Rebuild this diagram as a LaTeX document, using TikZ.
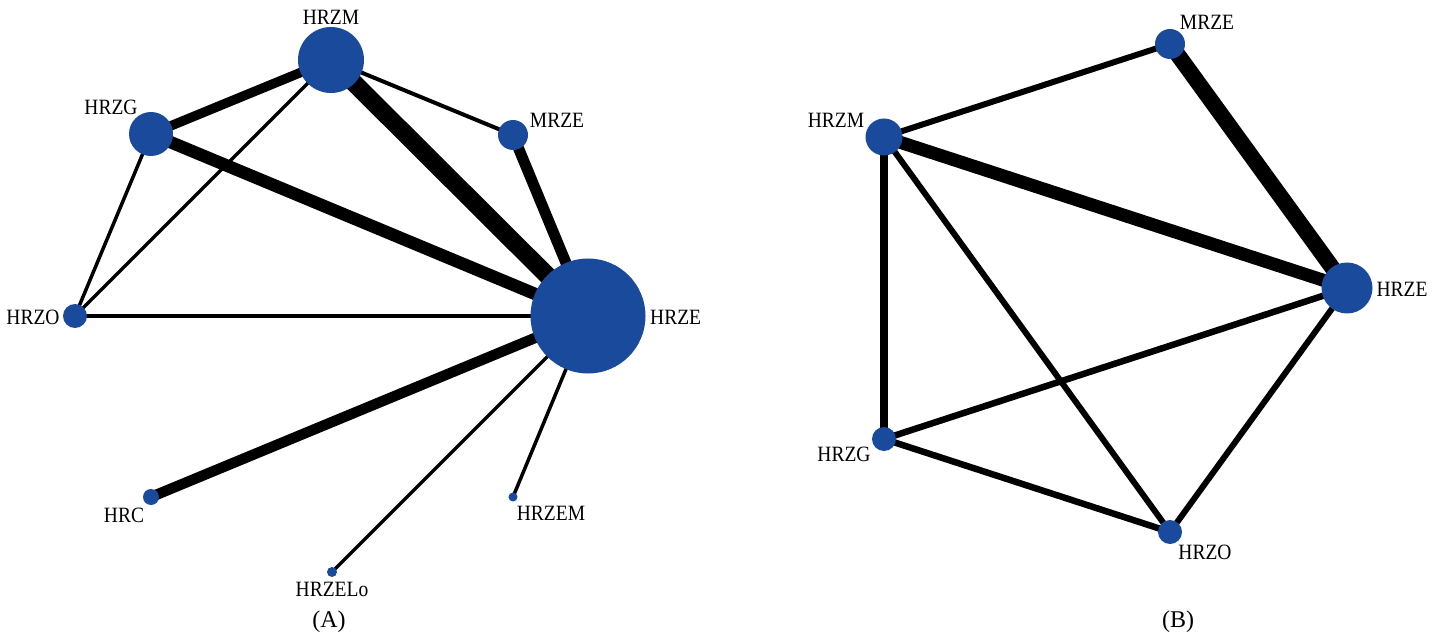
\documentclass[tikz,border=0pt]{standalone}
\usepackage{fontspec}
\usepackage{graphicx}
\setmainfont{Liberation Serif}
\pgfdeclarelayer{bg}
\pgfsetlayers{bg,main}
\definecolor{nodeblue}{RGB}{26,74,156}
\newcommand{\tallt}[1]{\scalebox{1}[1.12]{#1}}
\tikzset{
  dot/.style={circle,fill=nodeblue,draw=none,inner sep=0pt,minimum size=#1},
  lbl/.style={inner sep=0pt,font=\fontsize{19.5}{22}\selectfont,text=black},
  captext/.style={inner sep=0pt,font=\fontsize{24}{28}\selectfont,text=black},
  edge/.style={line width=#1,draw=black,line cap=butt},
}
\begin{document}
\begin{tikzpicture}[x=1pt,y=-1pt]
\useasboundingbox (0,0) rectangle (1443,636);
% ---------- Panel A ----------
\node[dot=66pt]  (aHRZM)  at (331,60)  {};
\node[dot=44pt]  (aHRZG)  at (151,134) {};
\node[dot=30pt]  (aMRZE)  at (513,135) {};
\node[dot=24pt]  (aHRZO)  at (75,316)  {};
\node[dot=115pt] (aHRZE)  at (588,316) {};
\node[dot=16pt]  (aHRC)   at (151,497) {};
\node[dot=9pt]   (aHRZEM) at (513,497) {};
\node[dot=10pt]  (aHRZELo) at (332,572) {};
\begin{pgfonlayer}{bg}
\draw[edge=9.5pt](aHRZM.center) -- (aHRZG.center);
\draw[edge=18pt] (aHRZM.center) -- (aHRZE.center);
\draw[edge=4pt]  (aHRZM.center) -- (aMRZE.center);
\draw[edge=3.5pt](aHRZM.center) -- (aHRZO.center);
\draw[edge=12.5pt](aHRZG.center) -- (aHRZE.center);
\draw[edge=3.5pt](aHRZG.center) -- (aHRZO.center);
\draw[edge=11pt] (aMRZE.center) -- (aHRZE.center);
\draw[edge=4pt]  (aHRZO.center) -- (aHRZE.center);
\draw[edge=10.5pt](aHRC.center) -- (aHRZE.center);
\draw[edge=3.5pt](aHRZEM.center) -- (aHRZE.center);
\draw[edge=3.5pt](aHRZELo.center) -- (aHRZE.center);
\end{pgfonlayer}
\node[lbl] (laHRZM)  at (331,17)  {\tallt{HRZM}};
\node[lbl] (laHRZG)  at (111,107) {\tallt{HRZG}};
\node[lbl] (laMRZE)  at (557,120) {\tallt{MRZE}};
\node[lbl] (laHRZO)  at (33,317)  {\tallt{HRZO}};
\node[lbl,anchor=west] (laHRZE) at (650,317) {\tallt{HRZE}};
\node[lbl] (laHRC)   at (124,515) {\tallt{HRC}};
\node[lbl] (laHRZEM) at (551,513) {\tallt{HRZEM}};
\node[lbl] (laHRZELo) at (332,589) {\tallt{HRZELo}};
\node[captext] (capA) at (329,622) {(A)};
% ---------- Panel B ----------
\node[dot=30pt] (bMRZE) at (1170,44)  {};
\node[dot=37pt] (bHRZM) at (884,137)  {};
\node[dot=51pt] (bHRZE) at (1347,288) {};
\node[dot=24pt] (bHRZG) at (884,439)  {};
\node[dot=24pt] (bHRZO) at (1170,532) {};
\begin{pgfonlayer}{bg}
\draw[edge=6pt]  (bMRZE.center) -- (bHRZM.center);
\draw[edge=16pt] (bMRZE.center) -- (bHRZE.center);
\draw[edge=13pt] (bHRZM.center) -- (bHRZE.center);
\draw[edge=7.5pt](bHRZM.center) -- (bHRZG.center);
\draw[edge=6pt]  (bHRZM.center) -- (bHRZO.center);
\draw[edge=6.5pt](bHRZG.center) -- (bHRZE.center);
\draw[edge=6.5pt](bHRZG.center) -- (bHRZO.center);
\draw[edge=6pt]  (bHRZO.center) -- (bHRZE.center);
\end{pgfonlayer}
\node[lbl] (lbMRZE) at (1207,22)  {\tallt{MRZE}};
\node[lbl] (lbHRZM) at (836,120)  {\tallt{HRZM}};
\node[lbl] (lbHRZE) at (1402,289) {\tallt{HRZE}};
\node[lbl] (lbHRZG) at (844,454)  {\tallt{HRZG}};
\node[lbl] (lbHRZO) at (1205,552) {\tallt{HRZO}};
\node[captext] (capB) at (1178,622) {(B)};
\end{tikzpicture}
\end{document}
